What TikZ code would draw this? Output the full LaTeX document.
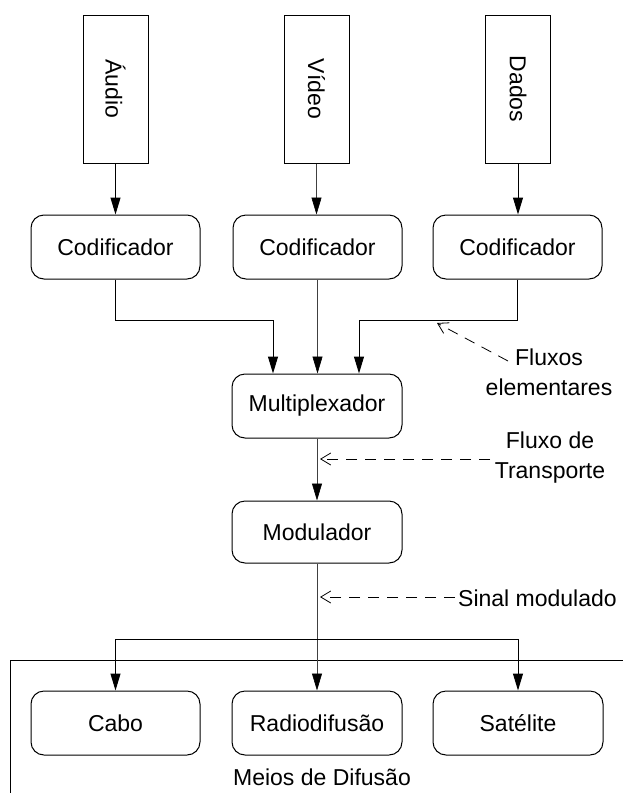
\documentclass[tikz,border=0pt]{standalone}
\usepackage{fontspec}
\setmainfont{Liberation Sans}
\usetikzlibrary{arrows.meta,calc}
\begin{document}
\begin{tikzpicture}[x=1pt,y=-1pt,
  every node/.style={font=\fontsize{23}{30}\selectfont},
  srcbox/.style={draw,line width=1pt,minimum width=65pt,minimum height=148pt,inner sep=0pt},
  rbox/.style={draw,line width=1pt,rounded corners=13pt,minimum width=169pt,minimum height=64pt,inner sep=0pt},
  arr/.style={line width=1pt,-{Triangle[length=17pt,width=10pt]}},
  thinarr/.style={line width=0.6pt,draw=black!75,-{Triangle[length=17pt,width=10pt,color=black,fill=black]}},
  dasharr/.style={line width=0.8pt,dash pattern=on 11pt off 8pt,-{Straight Barb[length=10pt,width=12pt]}},
  lbl/.style={align=center,inner sep=0pt}
]
\useasboundingbox (0,0) rectangle (623,793);

% sources
\node[srcbox] (audio) at (115.5,89) {\rotatebox{-90}{Áudio}};
\node[srcbox] (video) at (316.5,89) {\rotatebox{-90}{Vídeo}};
\node[srcbox] (dados) at (518,89) {\rotatebox{-90}{Dados}};

% coders
\node[rbox] (cod1) at (115.5,247) {Codificador};
\node[rbox] (cod2) at (317.5,247) {Codificador};
\node[rbox] (cod3) at (517.5,247) {Codificador};

\node[rbox,minimum width=170pt] (mux) at (317,406) {Multiplexador};
\node[rbox,minimum width=170pt,minimum height=62pt] (mod) at (317,532) {Modulador};

\node[rbox] (cabo) at (115.5,723) {Cabo};
\node[rbox,minimum width=170pt] (radio) at (317,723) {Radiodifusão};
\node[rbox,minimum width=170pt] (sat) at (518,723) {Satélite};

% frame of broadcast media
\draw[line width=1pt] (623,660) -- (10,660) -- (10,793);
\node[lbl] (meios) at (322,777) {Meios de Difusão};

% connectors
\draw[arr] (audio.south) -- (cod1.north);
\draw[thinarr] (video.south) -- (video.south |- cod2.north);
\draw[arr] (dados.south) -- (dados.south |- cod3.north);

\coordinate (j1) at (273,320);
\coordinate (j3) at (359,320);
\draw[arr] (cod1.south) |- (j1) -- (j1 |- mux.north);
\draw[thinarr] (cod2.south) -- (cod2.south |- mux.north);
\draw[arr] (cod3.south) |- (j3) -- (j3 |- mux.north);

\draw[thinarr] (mux.south) -- (mod.north);

\coordinate (br) at (317,639);
\draw[thinarr] (mod.south) -- (radio.north);
\draw[arr] (br) -| (cabo.north);
\draw[arr] (br) -| (sat.north);

% labels with dashed pointers
\node[lbl] (fluxos) at (549,372) {Fluxos\\elementares};
\coordinate (f1s) at (508,361);
\coordinate (f1t) at (437,323);
\draw[dasharr] (f1s) -- (f1t);

\node[lbl] (transp) at (550,457.5) {Fluxo de\\Transporte};
\coordinate (f2s) at (490,459);
\coordinate (f2t) at (320,459);
\draw[dasharr] (f2s) -- (f2t);

\node[lbl,anchor=west] (sinal) at (458,598) {Sinal modulado};
\coordinate (f3s) at (455,597);
\coordinate (f3t) at (320,597);
\draw[dasharr] (f3s) -- (f3t);
\end{tikzpicture}
\end{document}
